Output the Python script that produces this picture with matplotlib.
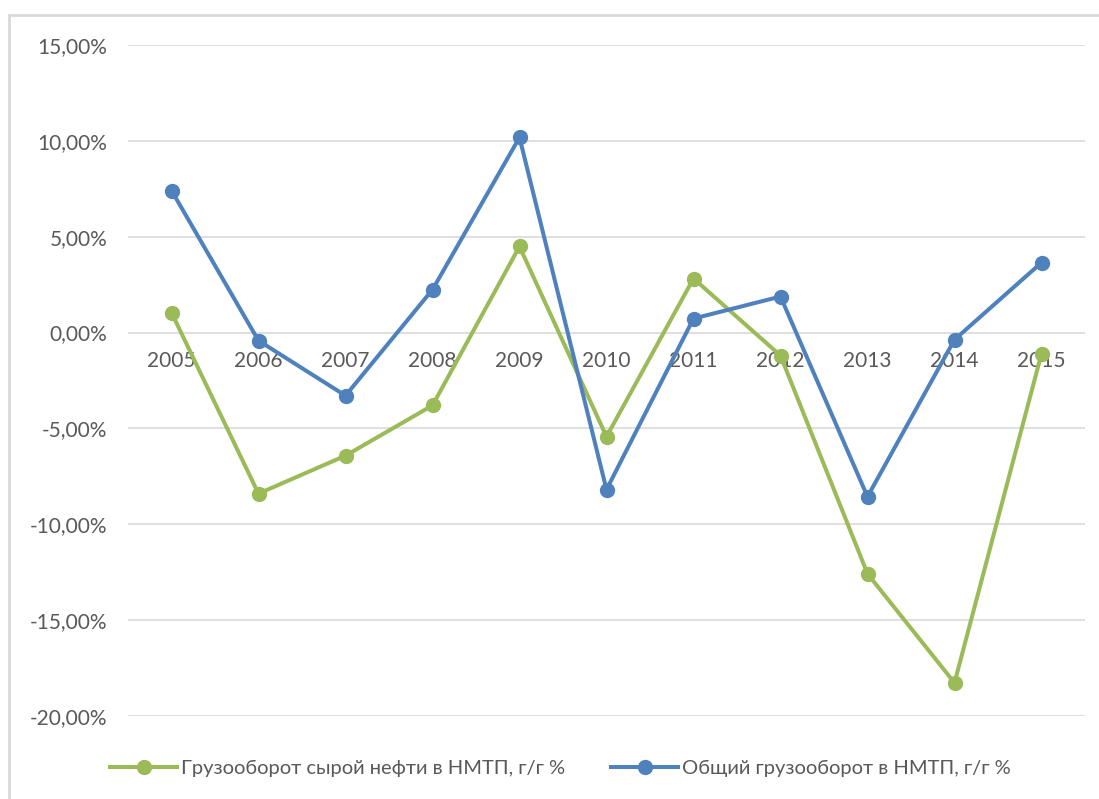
import matplotlib
matplotlib.use("Agg")
import matplotlib.pyplot as plt
from matplotlib.patches import Rectangle

years = ["2005", "2006", "2007", "2008", "2009", "2010", "2011", "2012", "2013", "2014", "2015"]
crude_oil = [1.04, -8.40, -6.42, -3.80, 4.49, -5.43, 2.82, -1.20, -12.58, -18.27, -1.10]
total = [7.41, -0.42, -3.29, 2.24, 10.18, -8.19, 0.73, 1.88, -8.56, -0.37, 3.65]
yticks = [15, 10, 5, 0, -5, -10, -15, -20]
label_crude = "Грузооборот сырой нефти в НМТП, г/г %"
label_total = "Общий грузооборот в НМТП, г/г %"

green = "#9BBB59"
blue = "#4F81BD"
txt = "#595959"
font = "Lato"

fig = plt.figure(figsize=(10.99, 7.99), dpi=100)
fig.patches.append(Rectangle((9/1099, -0.1), 1.2, 1 - 15/799 + 0.1, transform=fig.transFigure,
                             fill=False, edgecolor="#D9D9D9", linewidth=2, zorder=0))
ax = fig.add_axes([128/1099, 1 - 716/799, (1085 - 128)/1099, (716 - 45)/799])
ax.spines["bottom"].set_position(("data", 0))

x = list(range(len(years)))
ax.plot(x, crude_oil, color=green, lw=2.9, marker="o", ms=10, label=label_crude, zorder=3)
ax.plot(x, total, color=blue, lw=2.9, marker="o", ms=10, label=label_total, zorder=4)

ax.set_xlim(-0.5, len(years) - 0.5)
ax.set_ylim(-20, 15)
ax.set_yticks(yticks)
ax.set_yticklabels([f"{v:.2f}".replace(".", ",") + "%" for v in yticks],
                   fontfamily=font, fontsize=15, color=txt)
ax.set_xticks(x)
ax.set_xticklabels(years, fontfamily=font, fontsize=15, color=txt)
for s in ["top", "right", "left", "bottom"]:
    ax.spines[s].set_visible(False)
ax.tick_params(axis="both", length=0)
ax.tick_params(axis="x", pad=13)
ax.tick_params(axis="y", pad=15)
ax.grid(axis="y", color="#D9D9D9", lw=1.2)
ax.set_axisbelow(True)

fig.legend(loc="center", bbox_to_anchor=(0.51, 1 - 768/799), ncol=2, frameon=False,
           prop={"family": font, "size": 14.5}, labelcolor=txt, handlelength=3.3,
           columnspacing=2.3, handletextpad=0.2)
fig.savefig("out.png", dpi=100)
